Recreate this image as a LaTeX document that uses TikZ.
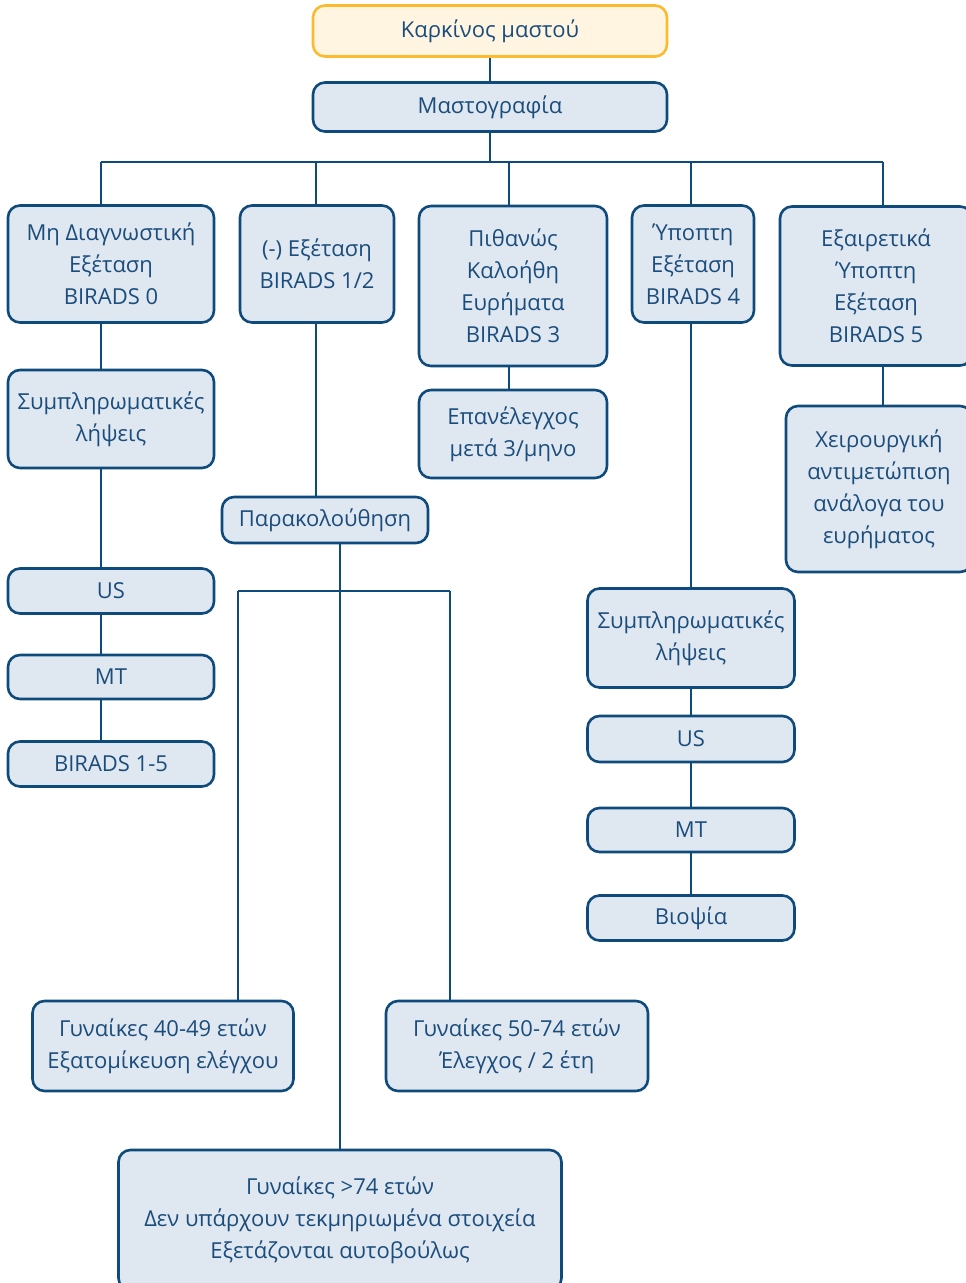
\documentclass[tikz,border=0pt]{standalone}
\usepackage{fontspec}
\setmainfont{Open Sans}
\definecolor{navy}{HTML}{1B4D7C}
\definecolor{edge}{HTML}{0E4A7B}
\definecolor{boxfill}{HTML}{DFE7F0}
\definecolor{gold}{HTML}{FDBA2C}
\definecolor{cream}{HTML}{FFF5E1}
\begin{document}
\begin{tikzpicture}[x=1pt,y=-1pt,
  box/.style={draw=edge, fill=boxfill, line width=2.6pt, rounded corners=12pt,
    text=navy, align=center, inner sep=0pt,
    font=\fontsize{22}{32}\selectfont},
  topbox/.style={box, draw=gold, fill=cream},
  link/.style={draw=edge, line width=1.4pt}]
  \useasboundingbox (0,0) rectangle (966,1283);

  % top of the tree
  \node[topbox, minimum width=354, minimum height=51] (cancer) at (490,31) {Καρκίνος μαστού};
  \node[box, minimum width=354, minimum height=49] (mammo) at (490,107) {Μαστογραφία};

  % the five BIRADS groups
  \node[box, minimum width=206, minimum height=117] (diag) at (111,264) {Μη Διαγνωστική\\Εξέταση\\BIRADS 0};
  \node[box, minimum width=154, minimum height=117] (neg) at (317,264) {(-) Εξέταση\\BIRADS 1/2};
  \node[box, minimum width=188, minimum height=160] (prob) at (513,286) {Πιθανώς\\Καλοήθη\\Ευρήματα\\BIRADS 3};
  \node[box, minimum width=122, minimum height=117] (susp) at (693,264) {Ύποπτη\\Εξέταση\\BIRADS 4};
  \node[box, minimum width=192, minimum height=159] (high) at (876,286) {Εξαιρετικά\\Ύποπτη\\Εξέταση\\BIRADS 5};

  % BIRADS 0 column
  \node[box, minimum width=206, minimum height=98] (extraA) at (111,419) {Συμπληρωματικές\\λήψεις};
  \node[box, minimum width=206, minimum height=45] (usA) at (111,591) {US};
  \node[box, minimum width=206, minimum height=44] (mtA) at (111,677) {MT};
  \node[box, minimum width=206, minimum height=45] (biradsA) at (111,764) {BIRADS 1-5};

  % BIRADS 1/2 column
  \node[box, minimum width=206, minimum height=46] (follow) at (325,520) {Παρακολούθηση};
  \node[box, minimum width=261, minimum height=90] (young) at (163,1046) {Γυναίκες 40-49 ετών\\Εξατομίκευση ελέγχου};
  \node[box, minimum width=262, minimum height=90] (mid) at (517,1046) {Γυναίκες 50-74 ετών\\Έλεγχος / 2 έτη};
  \node[box, minimum width=443, minimum height=140] (old) at (340,1220) {Γυναίκες >74 ετών\\Δεν υπάρχουν τεκμηριωμένα στοιχεία\\Εξετάζονται αυτοβούλως};

  % BIRADS 3 column
  \node[box, minimum width=188, minimum height=88] (recheck) at (513,434) {Επανέλεγχος\\μετά 3/μηνο};

  % BIRADS 4 column
  \node[box, minimum width=207, minimum height=99] (extraD) at (691,638) {Συμπληρωματικές\\λήψεις};
  \node[box, minimum width=207, minimum height=46] (usD) at (691,739) {US};
  \node[box, minimum width=207, minimum height=44] (mtD) at (691,830) {MT};
  \node[box, minimum width=207, minimum height=45] (biopsy) at (691,918) {Βιοψία};

  % BIRADS 5 column
  \node[box, minimum width=186, minimum height=166] (surgery) at (879,489) {Χειρουργική\\αντιμετώπιση\\ανάλογα του\\ευρήματος};

  % connectors
  \coordinate (bus) at (490,162);
  \coordinate (busA) at (101,162);
  \coordinate (busB) at (316,162);
  \coordinate (busC) at (509,162);
  \coordinate (busD) at (691,162);
  \coordinate (busE) at (883,162);
  \coordinate (forkL) at (238,591);
  \coordinate (forkR) at (450,591);

  \draw[link] (cancer) -- (mammo);
  \draw[link] (mammo) -- (bus);
  \draw[link] (busA) -- (busE);
  \foreach \b/\n in {busA/diag, busB/neg, busC/prob, busD/susp, busE/high}
    \draw[link] (\b) -- (\b |- \n.north);
  \foreach \a/\n in {diag/extraA, extraA/usA, usA/mtA, mtA/biradsA}
    \draw[link] (busA |- \a.south) -- (busA |- \n.north);
  \foreach \a/\n in {susp/extraD, extraD/usD, usD/mtD, mtD/biopsy}
    \draw[link] (busD |- \a.south) -- (busD |- \n.north);
  \draw[link] (busB |- neg.south) -- (busB |- follow.north);
  \draw[link] (busC |- prob.south) -- (busC |- recheck.north);
  \draw[link] (busE |- high.south) -- (busE |- surgery.north);
  \draw[link] (old.north |- follow.south) -- (old.north);
  \draw[link] (forkL) -- (forkR);
  \draw[link] (forkL) -- (forkL |- young.north);
  \draw[link] (forkR) -- (forkR |- mid.north);
\end{tikzpicture}
\end{document}
